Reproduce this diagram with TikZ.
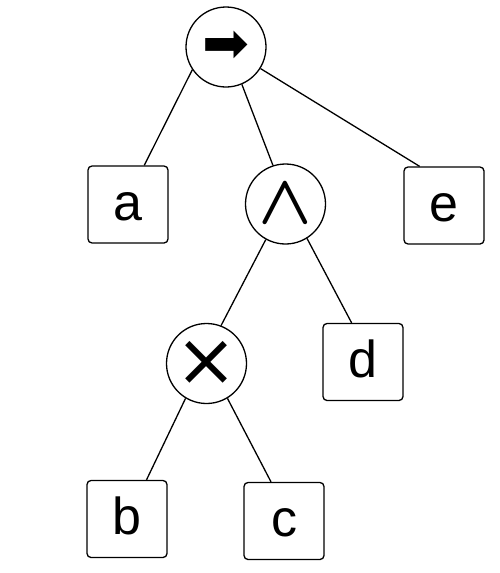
\documentclass[tikz,border=0pt]{standalone}
\usepackage{fontspec}
\usepackage{graphicx}
\setmainfont{Liberation Sans}
\newfontfamily\symfont{DejaVu Sans}
\newcommand{\boldwedge}{\mbox{\boldmath$\wedge$}}
\usetikzlibrary{calc}
\begin{document}
\begin{tikzpicture}[x=1pt,y=-1pt,
  opnode/.style={circle,draw,line width=1.3pt,minimum size=80pt,inner sep=0pt},
  leaf/.style={draw,line width=1.3pt,rounded corners=4pt,minimum width=80pt,minimum height=77pt,inner sep=0pt,
     font=\fontsize{52}{56}\selectfont,text height=39pt,text depth=8pt},
  edge/.style={line width=1.3pt}]
\useasboundingbox (0,0) rectangle (500,573);
\node[opnode] (root) at (226,47) {\symfont\fontsize{56}{60}\selectfont ➡};
\node[leaf] (a) at (128,204.5) {a};
\node[opnode] (and) at (285.5,204) {\scalebox{7}{\boldwedge}};
\node[leaf] (e) at (444,205.5) {e};
\node[opnode] (times) at (206.5,363.5) {\symfont\fontsize{74}{78}\selectfont ×};
\node[leaf] (d) at (363,362) {d};
\node[leaf] (b) at (127,519) {b};
\node[leaf] (c) at (284,521) {c};
\draw[edge] (root.214) -- ($(a.north west)!0.7!(a.north east)$);
\draw[edge] (root.293) -- (and.108);
\draw[edge] (root.328) -- ($(e.north west)!0.2!(e.north east)$);
\draw[edge] (and.241) -- (times.69);
\draw[edge] (and.302) -- ($(d.north west)!0.36!(d.north east)$);
\draw[edge] (times.239) -- ($(b.north west)!0.74!(b.north east)$);
\draw[edge] (times.301) -- ($(c.north west)!0.34!(c.north east)$);
\end{tikzpicture}
\end{document}
